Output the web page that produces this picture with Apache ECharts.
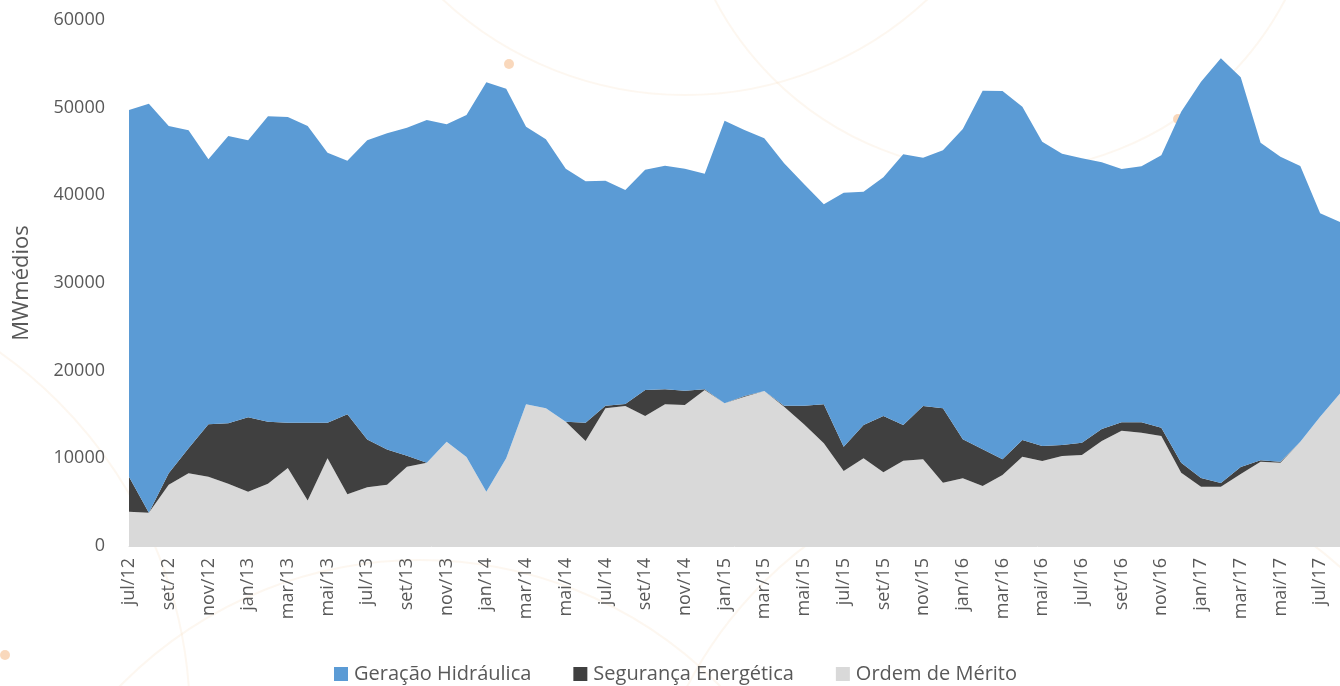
<!DOCTYPE html>
<html>
<head>
<meta charset="utf-8">
<script src="https://cdn.jsdelivr.net/npm/echarts@6/dist/echarts.min.js"></script>
<style>
  html, body { margin: 0; padding: 0; background: #fff; }
  #chart { width: 1340px; height: 686px; }
</style>
</head>
<body>
<div id="chart"></div>
<script>
// meses jul/12 .. ago/17 (o último fica cortado na borda)
const months = [
  'jul/12','ago/12','set/12','out/12','nov/12','dez/12',
  'jan/13','fev/13','mar/13','abr/13','mai/13','jun/13','jul/13','ago/13','set/13','out/13','nov/13','dez/13',
  'jan/14','fev/14','mar/14','abr/14','mai/14','jun/14','jul/14','ago/14','set/14','out/14','nov/14','dez/14',
  'jan/15','fev/15','mar/15','abr/15','mai/15','jun/15','jul/15','ago/15','set/15','out/15','nov/15','dez/15',
  'jan/16','fev/16','mar/16','abr/16','mai/16','jun/16','jul/16','ago/16','set/16','out/16','nov/16','dez/16',
  'jan/17','fev/17','mar/17','abr/17','mai/17','jun/17','jul/17','ago/17'
];

// Ordem de Mérito (base)
const ordemMerito = [
  3900, 3800, 7000, 8300, 7900, 7100,
  6200, 7100, 8900, 5200, 10000, 5900, 6700, 7000, 9050, 9500, 11900, 10150,
  6200, 10000, 16160, 15700, 14180, 11980, 15700, 15970, 14830, 16160, 16080, 17790,
  16270, 17030, 17680, 15890, 13880, 11710, 8550, 10000, 8400, 9730, 9890, 7220,
  7720, 6840, 8100, 10190, 9700, 10270, 10380, 11980, 13150, 12930, 12550, 8360,
  6770, 6770, 8200, 9620, 9500, 11900, 14750, 17400
];

// Segurança Energética
const segurancaEnergetica = [
  4000, 0, 1300, 2850, 6000, 6900,
  8480, 7080, 5170, 8870, 4070, 9140, 5450, 4000, 1250, 0, 0, 0,
  0, 0, 0, 0, 0, 2090, 300, 230, 2960, 1710, 1640, 80,
  0, 70, 0, 110, 2120, 4450, 2780, 3800, 6430, 4070, 6080, 8480,
  4450, 4190, 1790, 1900, 1710, 1250, 1400, 1370, 960, 1180, 950, 1140,
  980, 410, 800, 160, 120, 0, 0, 0
];

// Geração Hidráulica (topo)
const geracaoHidraulica = [
  41820, 46650, 39610, 36260, 30220, 32770,
  31590, 34830, 34860, 33830, 30800, 28910, 34120, 36070, 37420, 39090, 36200, 39010,
  46690, 42160, 31670, 30690, 28860, 27530, 25670, 24410, 25140, 25510, 25320, 24600,
  32250, 30350, 28820, 27650, 25290, 22810, 28970, 26620, 27220, 30890, 28320, 29430,
  35390, 40910, 42010, 38020, 34710, 33230, 32440, 30420, 28890, 29200, 31060, 40040,
  45210, 48450, 44460, 36220, 34780, 31440, 23200, 19570
];

const FONT = '"Open Sans", "DejaVu Sans", sans-serif';
const TEXT_COLOR = '#595959';

const chart = echarts.init(document.getElementById('chart'), null, { renderer: 'canvas' });

// arcos decorativos do fundo (bem claros)
const arcColor = 'rgba(242, 196, 150, 0.14)';
const dotColor = 'rgba(247, 200, 160, 0.7)';
const decor = [
  { type: 'circle', shape: { cx: 685, cy: -260, r: 355 } },
  { type: 'circle', shape: { cx: 1000, cy: -150, r: 322 } },
  { type: 'circle', shape: { cx: -260, cy: 720, r: 450 } },
  { type: 'circle', shape: { cx: 1060, cy: 880, r: 420 } },
  { type: 'circle', shape: { cx: 420, cy: 980, r: 420 } }
].map(c => ({ ...c, silent: true, z: -10, style: { fill: 'none', stroke: arcColor, lineWidth: 2 } }));
[[509, 64], [1178, 119], [5, 655]].forEach(p => {
  decor.push({ type: 'circle', silent: true, z: -9, shape: { cx: p[0], cy: p[1], r: 5 }, style: { fill: dotColor } });
});

const areaSeries = (name, data, color) => ({
  name: name,
  type: 'line',
  stack: 'total',
  data: data,
  symbol: 'none',
  lineStyle: { width: 0 },
  areaStyle: { color: color, opacity: 1 },
  itemStyle: { color: color },
  emphasis: { disabled: true }
});

const option = {
  animation: false,
  graphic: decor,
  grid: {
    left: 129,
    right: -9,
    top: 20,
    bottom: 140,
    containLabel: false
  },
  legend: {
    data: ['Geração Hidráulica', 'Segurança Energética', 'Ordem de Mérito'],
    left: 329,
    top: 659,
    icon: 'rect',
    itemWidth: 14,
    itemHeight: 14,
    itemGap: 42,
    textStyle: { fontFamily: FONT, fontSize: 20, color: TEXT_COLOR, padding: [0, 0, 0, 1] }
  },
  xAxis: {
    type: 'category',
    boundaryGap: false,
    data: months,
    axisLine: { show: true, lineStyle: { color: '#d9d9d9' } },
    axisTick: { show: false },
    axisLabel: {
      interval: 1,
      rotate: 90,
      margin: 12,
      fontFamily: FONT,
      fontSize: 18,
      color: TEXT_COLOR
    }
  },
  yAxis: {
    type: 'value',
    min: 0,
    max: 60000,
    interval: 10000,
    name: 'MWmédios',
    nameLocation: 'middle',
    nameGap: 96,
    nameRotate: 90,
    nameTextStyle: { fontFamily: FONT, fontSize: 22, color: TEXT_COLOR },
    axisLine: { show: false },
    axisTick: { show: false },
    splitLine: { show: false },
    axisLabel: {
      margin: 24,
      fontFamily: FONT,
      fontSize: 18,
      color: TEXT_COLOR,
      formatter: v => String(v)
    }
  },
  series: [
    areaSeries('Ordem de Mérito', ordemMerito, '#d9d9d9'),
    areaSeries('Segurança Energética', segurancaEnergetica, '#404040'),
    areaSeries('Geração Hidráulica', geracaoHidraulica, '#5b9bd5')
  ]
};

chart.setOption(option);
</script>
</body>
</html>
